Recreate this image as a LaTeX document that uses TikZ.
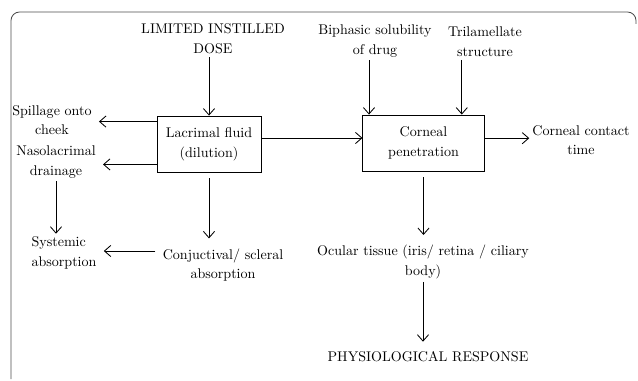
\documentclass[tikz,border=0pt]{standalone}
\usepackage{tikz}
\usetikzlibrary{arrows,arrows.meta,positioning}
\tikzstyle{box} = [rectangle, draw=black, semithick, minimum height=1.4cm, text centered, align=center, font=\fontsize{10}{14}\selectfont]
\tikzstyle{lbl} = [align=center, font=\fontsize{10}{14}\selectfont, inner sep=2pt]
\tikzstyle{arrow} = [semithick,->,>={Straight Barb[length=1.6mm,width=2.8mm]}]

\begin{document}
\begin{tikzpicture}[x=0.025cm, y=-0.025cm]
	\useasboundingbox (0,0) rectangle (638,381);
	% frame
	\draw[black!70, line width=0.6pt, rounded corners=6pt] (11,379) -- (11,12) -- (636,12) -- (636,24);
	% left column
	\coordinate (P1) at (52,120);
	\coordinate (P2) at (56,162);
	\coordinate (P3) at (64,253);
	% middle column
	\coordinate (P4) at (213,39);
	\coordinate (P5) at (209,144);
	\coordinate (P6) at (223,265);
	% right column
	\coordinate (P7) at (375,41);
	\coordinate (P8) at (485,42);
	\coordinate (P9) at (423.5,143);
	\coordinate (P10) at (581,140);
	\coordinate (P11) at (423,262);
	\coordinate (P12) at (428,357);
	\begin{scope}[every node/.style={lbl}]
	\node[name=spill] at (P1) {Spillage onto\\cheek};
	\node[name=naso] at (P2) {Nasolacrimal\\drainage};
	\node[name=sys, align=left] at (P3) {Systemic\\absorption};
	\node[name=dose] at (P4) {LIMITED INSTILLED\\DOSE};
	\node[name=conj] at (P6) {Conjuctival/ scleral\\absorption};
	\node[name=bipha] at (P7) {Biphasic solubility\\of drug};
	\node[name=tril] at (P8) {Trilamellate\\structure};
	\node[name=contact] at (P10) {Corneal contact\\time};
	\node[name=ocular] at (P11) {Ocular tissue (iris/ retina / ciliary\\body)};
	\node[name=resp] at (P12) {PHYSIOLOGICAL RESPONSE};
	\end{scope}
	\node[box, minimum width=2.6cm, name=lac] at (P5) {Lacrimal fluid\\(dilution)};
	\node[box, minimum width=3.03cm, name=corn] at (P9) {Corneal\\penetration};
	% arrows
	\draw[arrow] (dose.south -| lac.north) -- (lac.north);
	\draw[arrow, shorten >=3pt] ([yshift=-0.15cm]lac.north west) -- ([yshift=-0.15cm]lac.north west -| spill.east);
	\draw[arrow, shorten >=3pt] ([yshift=0.2cm]lac.south west) -- ([yshift=0.2cm]lac.south west -| naso.east);
	\draw[arrow] (naso.south) -- (naso.south |- sys.north);
	\draw[arrow, shorten <=4pt, shorten >=5pt] (lac.south) -- (lac.south |- conj.north);
	\draw[arrow, shorten <=3pt, shorten >=3pt] ([yshift=0.35cm]conj.west) -- ([yshift=0.35cm]conj.west -| sys.east);
	\draw[arrow] ([yshift=0.15cm]lac.east) -- ([yshift=0.15cm]lac.east -| corn.west);
	\draw[arrow] ([xshift=-0.15cm]bipha.south) -- ([xshift=-0.15cm]bipha.south |- corn.north);
	\draw[arrow] ([xshift=-0.58cm]tril.south) -- ([xshift=-0.58cm]tril.south |- corn.north);
	\draw[arrow] ([yshift=0.12cm]corn.east) -- ([yshift=0.12cm]corn.east -| contact.west);
	\draw[arrow, shorten <=4pt, shorten >=5pt] (corn.south) -- (corn.south |- ocular.north);
	\draw[arrow, shorten >=5pt] (ocular.south) -- (ocular.south |- resp.north);
\end{tikzpicture}
\end{document}
